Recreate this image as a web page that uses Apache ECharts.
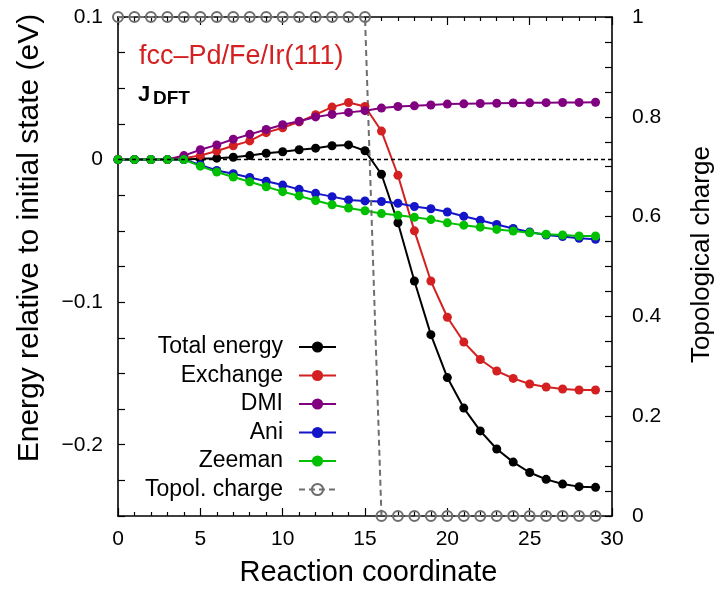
<!DOCTYPE html>
<html>
<head>
<meta charset="utf-8">
<script src="https://cdn.jsdelivr.net/npm/echarts@6/dist/echarts.min.js"></script>
<style>html,body{margin:0;padding:0;background:#fff;}#c{width:723px;height:592px;}</style>
</head>
<body>
<div id="c"></div>
<script>
const coord = [0,1,2,3,4,5,6,7,8,9,10,11,12,13,14,15,16,17,18,19,20,21,22,23,24,25,26,27,28,29];
const totalEnergy = [0,0,0,0,0,0.0005,0.001,0.0016,0.0028,0.0044,0.0055,0.0069,0.008,0.0097,0.0103,0.0062,-0.0103,-0.0443,-0.0852,-0.1228,-0.1529,-0.1743,-0.1903,-0.203,-0.2122,-0.2195,-0.2243,-0.2276,-0.2294,-0.2299];
const exchange = [0,0,0,0,0.001,0.0028,0.006,0.0097,0.0131,0.0189,0.0223,0.0264,0.0315,0.0368,0.040,0.0372,0.020,-0.011,-0.050,-0.0852,-0.1106,-0.128,-0.1402,-0.1483,-0.1535,-0.1574,-0.1595,-0.1609,-0.1616,-0.1616];
const dmi = [0,0,0,0,0.0028,0.0069,0.0103,0.0143,0.0177,0.0211,0.0244,0.0269,0.0299,0.0317,0.0331,0.0343,0.0361,0.0372,0.0377,0.0383,0.0389,0.0391,0.0393,0.0395,0.0397,0.0398,0.0399,0.04,0.0401,0.0402];
const ani = [0,0,0,0,0,-0.0037,-0.0076,-0.0099,-0.0126,-0.0152,-0.0179,-0.0209,-0.0237,-0.026,-0.0283,-0.029,-0.0294,-0.0306,-0.0329,-0.0345,-0.0368,-0.0398,-0.0425,-0.0455,-0.0483,-0.0508,-0.0529,-0.054,-0.0552,-0.0559];
const zeeman = [0,0,0,0,0,-0.0046,-0.0087,-0.0122,-0.0156,-0.0191,-0.0225,-0.0255,-0.0287,-0.0317,-0.034,-0.0359,-0.0379,-0.0391,-0.0405,-0.0421,-0.0444,-0.046,-0.0474,-0.049,-0.0501,-0.0513,-0.0524,-0.0529,-0.0536,-0.0536];
const topoCharge = [1,1,1,1,1,1,1,1,1,1,1,1,1,1,1,1,0,0,0,0,0,0,0,0,0,0,0,0,0,0];
const seriesNames = ['Total energy','Exchange','DMI','Ani','Zeeman','Topol. charge'];
const leftTicks = [0.1, 0, -0.1, -0.2];
const rightTicks = [0, 0.2, 0.4, 0.6, 0.8, 1];

const FONT = "'Liberation Sans', Arial, Helvetica, sans-serif";
const pairs = arr => coord.map((x, i) => [x, arr[i]]);
const near = (v, list) => list.some(t => Math.abs(v - t) < 1e-6);
const fmtNum = v => {
  if (Math.abs(v) < 1e-9) return '0';
  const s = String(Math.round(v * 1000) / 1000);
  return s.replace('-', '\u2212');
};

const colors = ['#000000', '#d42020', '#800080', '#1414c8', '#00c000', '#6e6e6e'];
const energySets = [totalEnergy, exchange, dmi, ani, zeeman];

function lineSeries(idx) {
  const s = {
    name: seriesNames[idx],
    type: 'line',
    xAxisIndex: 0,
    yAxisIndex: 0,
    data: pairs(energySets[idx]),
    symbol: 'circle',
    symbolSize: 9,
    lineStyle: { color: colors[idx], width: 2 },
    itemStyle: { color: colors[idx] },
    emphasis: { disabled: true },
    animation: false
  };
  if (idx === 0) {
    s.markLine = {
      silent: true,
      symbol: 'none',
      label: { show: false },
      lineStyle: { color: '#000', type: [4, 3], width: 1.3 },
      data: [{ yAxis: 0 }],
      animation: false
    };
  }
  return s;
}

const chart = echarts.init(document.getElementById('c'), null, { renderer: 'canvas' });
const axisLineStyle = { color: '#000', width: 1.6 };
chart.setOption({
  animation: false,
  backgroundColor: '#fff',
  textStyle: { fontFamily: FONT },
  grid: { left: 118, right: 107, top: 17, bottom: 74, containLabel: false },
  xAxis: [
    {
      type: 'value', min: 0, max: 30, interval: 5, position: 'bottom',
      name: 'Reaction coordinate', nameLocation: 'middle', nameGap: 42,
      nameTextStyle: { fontSize: 29, color: '#000', fontFamily: FONT, padding: [0, 0, 0, 7] },
      axisLine: { show: true, onZero: false, lineStyle: axisLineStyle },
      axisTick: { show: true, inside: true, length: 8, lineStyle: { color: '#000', width: 1.2 } },
      minorTick: { show: true, splitNumber: 5, length: 4, lineStyle: { color: '#000', width: 1.2 } },
      axisLabel: { fontSize: 21, color: '#000', margin: 13, fontFamily: FONT },
      splitLine: { show: false }
    },
    {
      type: 'value', min: 0, max: 30, interval: 5, position: 'top',
      axisLine: { show: true, onZero: false, lineStyle: axisLineStyle },
      axisTick: { show: true, inside: true, length: 8, lineStyle: { color: '#000', width: 1.2 } },
      minorTick: { show: true, splitNumber: 5, length: 4, lineStyle: { color: '#000', width: 1.2 } },
      axisLabel: { show: false },
      splitLine: { show: false }
    }
  ],
  yAxis: [
    {
      type: 'value', min: -0.25, max: 0.1, interval: 0.025, position: 'left',
      name: 'Energy relative to initial state (eV)', nameLocation: 'middle', nameGap: 73, nameRotate: 90,
      nameTextStyle: { fontSize: 30, color: '#000', fontFamily: FONT, padding: [0, 0, 0, 57] },
      axisLine: { show: true, onZero: false, lineStyle: axisLineStyle },
      axisTick: { show: true, inside: true, length: 7, lineStyle: { color: '#000', width: 1.2 } },
      axisLabel: {
        fontSize: 21, color: '#000', margin: 15, fontFamily: FONT,
        formatter: v => near(v, leftTicks) ? fmtNum(v) : ''
      },
      splitLine: { show: false }
    },
    {
      type: 'value', min: 0, max: 1, interval: 0.05, position: 'right',
      name: 'Topological charge', nameLocation: 'middle', nameGap: 77, nameRotate: 90,
      nameTextStyle: { fontSize: 26, color: '#000', fontFamily: FONT, padding: [0, 0, 0, 24] },
      axisLine: { show: true, onZero: false, lineStyle: axisLineStyle },
      axisTick: { show: true, inside: true, length: 7, lineStyle: { color: '#000', width: 1.2 } },
      axisLabel: {
        fontSize: 21, color: '#000', margin: 20, fontFamily: FONT,
        formatter: v => near(v, rightTicks) ? fmtNum(v) : ''
      },
      splitLine: { show: false }
    }
  ],
  legend: {
    orient: 'vertical',
    align: 'right',
    right: 386,
    top: 335.5,
    padding: 0,
    itemGap: 5.5,
    itemWidth: 37,
    itemHeight: 14,
    data: seriesNames,
    textStyle: { fontSize: 23, color: '#000', fontFamily: FONT, lineHeight: 23, padding: [0, 11, 0, 0] },
    selectedMode: false
  },
  graphic: [
    { type: 'text', left: 139, top: 43, style: { text: 'fcc\u2013Pd/Fe/Ir(111)', fill: '#d42020', font: "27px " + FONT } },
    { type: 'text', left: 138, top: 84, style: { text: 'J', fill: '#000', font: "bold 22px " + FONT } },
    { type: 'text', left: 153, top: 89, style: { text: 'DFT', fill: '#000', font: "bold 19px " + FONT } }
  ],
  series: [
    lineSeries(0), lineSeries(1), lineSeries(2), lineSeries(3), lineSeries(4),
    {
      name: seriesNames[5],
      type: 'line',
      xAxisIndex: 0,
      yAxisIndex: 1,
      data: pairs(topoCharge),
      symbol: 'circle',
      symbolSize: 10,
      lineStyle: { color: colors[5], width: 2, type: [6, 4] },
      itemStyle: { color: 'rgba(255,255,255,0)', borderColor: colors[5], borderWidth: 2 },
      emphasis: { disabled: true },
      animation: false
    }
  ]
});
</script>
</body>
</html>
